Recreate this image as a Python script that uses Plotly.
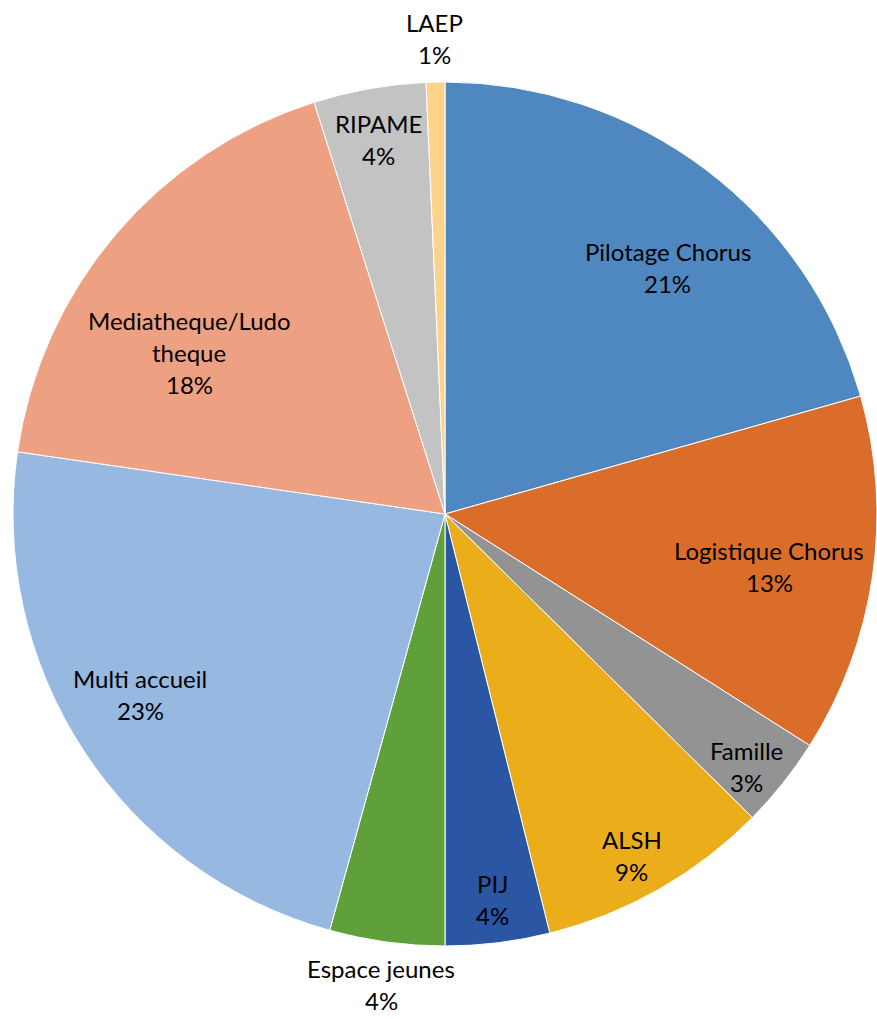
import math
import plotly.graph_objects as go

labels = ["Pilotage Chorus", "Logistique Chorus", "Famille", "ALSH", "PIJ",
          "Espace jeunes", "Multi accueil", "Mediatheque/Ludotheque", "RIPAME", "LAEP"]
display_labels = ["Pilotage Chorus", "Logistique Chorus", "Famille", "ALSH", "PIJ",
                  "Espace jeunes", "Multi accueil", "Mediatheque/Ludo<br>theque", "RIPAME", "LAEP"]
values = [20.6, 13.4, 3.4, 8.7, 3.9, 4.3, 23.0, 17.8, 4.2, 0.7]

colors = ["#4f88c0", "#db6d2a", "#939393", "#ebae1a", "#2b56a3",
          "#60a03a", "#97b8e0", "#eea082", "#c3c3c3", "#fdd38b"]
# label placement (style): radial fraction of pie radius, angular nudge in degrees
label_r = [0.77, 0.76, 0.91, 0.90, 0.90, 1.10, 0.82, 0.70, 0.88, 1.10]
label_dang = [5, 1, 1.5, 1, 0, 0, 2.5, -8, 0, 0]

W, H = 877, 1019
dom_x = [13 / W, 1.0]
dom_y = [1 - 946 / H, 1 - 82 / H]

fig = go.Figure(go.Pie(
    labels=labels, values=values, sort=False, direction="clockwise", rotation=0,
    marker=dict(colors=colors, line=dict(color="white", width=1)),
    textinfo="none", hoverinfo="label+percent", showlegend=False,
    domain=dict(x=dom_x, y=dom_y),
))

# pie geometry in pixels (same as plotly: radius = half of the smaller domain side)
dw = (dom_x[1] - dom_x[0]) * W
dh = (dom_y[1] - dom_y[0]) * H
R = min(dw, dh) / 2
cx = (dom_x[0] + dom_x[1]) / 2 * W
cy = (1 - (dom_y[0] + dom_y[1]) / 2) * H

total = sum(values)
cum = 0.0
line_h = 32
font = dict(family="Lato, 'Open Sans', sans-serif", size=24, color="black")
for lab, v, rf, da in zip(display_labels, values, label_r, label_dang):
    mid = (cum + v / 2) / total * 2 * math.pi + math.radians(da)
    cum += v
    px = cx + rf * R * math.sin(mid)
    py = cy - rf * R * math.cos(mid)
    pct = f"{round(v / total * 100):d}%"
    lines = lab.split("<br>") + [pct]
    n = len(lines)
    for i, t in enumerate(lines):
        off = (i - (n - 1) / 2) * line_h
        fig.add_annotation(x=px / W, y=1 - py / H, xref="paper", yref="paper",
                           text=t, showarrow=False, font=font, borderpad=0,
                           xanchor="center", yanchor="middle", yshift=-off)

fig.update_layout(width=W, height=H, margin=dict(l=0, r=0, t=0, b=0),
                  paper_bgcolor="white", plot_bgcolor="white")
fig.write_html("out.html")
